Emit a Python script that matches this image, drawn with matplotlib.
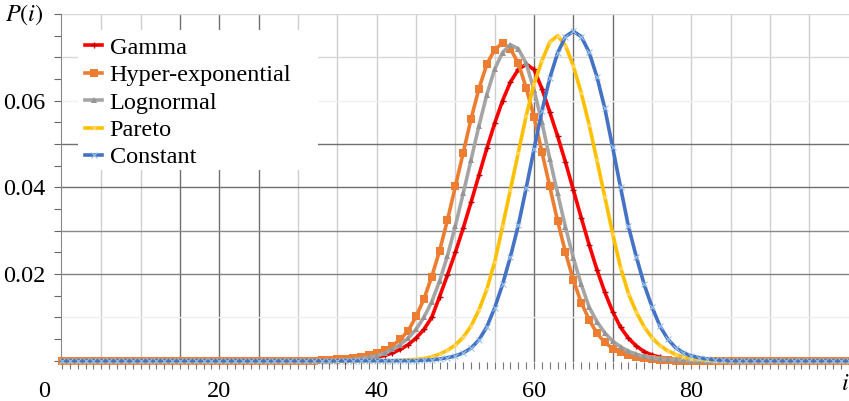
import matplotlib
matplotlib.use("Agg")
import matplotlib.pyplot as plt
from matplotlib.patches import Rectangle
from matplotlib.transforms import ScaledTranslation
from matplotlib.ticker import MultipleLocator

plt.rcParams['font.family'] = ['Liberation Serif', 'DejaVu Serif']
plt.rcParams['mathtext.fontset'] = 'stix'

N_POINTS = 101  # i = 0 .. 100

# non-zero stretch of each distribution: (first i, values)
GAMMA_START = 37
GAMMA = [0.0002, 0.0003, 0.0005, 0.0008, 0.0012, 0.0018, 0.0026, 0.0037, 0.0052,
         0.0072, 0.0100, 0.0148, 0.0198, 0.0250, 0.0306, 0.0366, 0.0428, 0.0490,
         0.0548, 0.0600, 0.0643, 0.0672, 0.0684, 0.0672, 0.0628, 0.0574, 0.0518,
         0.0458, 0.0394, 0.0330, 0.0268, 0.0210, 0.0158, 0.0113, 0.0077, 0.0052,
         0.0034, 0.0021, 0.0013, 0.0008, 0.0005, 0.0003, 0.0001]

HYPER_START = 33
HYPER = [0.0001, 0.0002, 0.0003, 0.0004, 0.0006, 0.0009, 0.0013, 0.0018, 0.0025,
         0.0035, 0.0049, 0.0069, 0.0102, 0.0142, 0.0194, 0.0254, 0.0325, 0.0402,
         0.0480, 0.0558, 0.0628, 0.0684, 0.0718, 0.0733, 0.0720, 0.0686, 0.0630,
         0.0563, 0.0482, 0.0402, 0.0322, 0.0250, 0.0186, 0.0134, 0.0095, 0.0063,
         0.0042, 0.0028, 0.0019, 0.0013, 0.0009, 0.0006, 0.0004, 0.0002, 0.0001]

LOGNORMAL_START = 36
LOGNORMAL = [0.0002, 0.0003, 0.0005, 0.0008, 0.0011, 0.0017, 0.0026, 0.0037, 0.0052,
             0.0072, 0.0100, 0.0136, 0.0184, 0.0242, 0.0311, 0.0386, 0.0464, 0.0542,
             0.0614, 0.0673, 0.0711, 0.0729, 0.0720, 0.0686, 0.0625, 0.0550, 0.0466,
             0.0386, 0.0308, 0.0237, 0.0176, 0.0124, 0.0090, 0.0064, 0.0045, 0.0032,
             0.0022, 0.0015, 0.0010, 0.0007, 0.0004, 0.0003, 0.0002, 0.0001]

PARETO_START = 43
PARETO = [0.0001, 0.0002, 0.0003, 0.0005, 0.0009, 0.0015, 0.0024, 0.0036, 0.0054,
          0.0080, 0.0117, 0.0165, 0.0228, 0.0310, 0.0395, 0.0480, 0.0565, 0.0638,
          0.0692, 0.0735, 0.0750, 0.0727, 0.0680, 0.0618, 0.0545, 0.0462, 0.0378,
          0.0293, 0.0215, 0.0155, 0.0112, 0.0078, 0.0053, 0.0035, 0.0023, 0.0014,
          0.0009, 0.0005, 0.0003, 0.0001]

CONSTANT_START = 46
CONSTANT = [0.0001, 0.0002, 0.0004, 0.0007, 0.0011, 0.0018, 0.0029, 0.0048, 0.0078,
            0.0122, 0.0176, 0.0240, 0.0312, 0.0398, 0.0488, 0.0576, 0.0652, 0.0710,
            0.0748, 0.0760, 0.0748, 0.0712, 0.0655, 0.0582, 0.0492, 0.0400, 0.0310,
            0.0240, 0.0176, 0.0124, 0.0080, 0.0050, 0.0030, 0.0018, 0.0011, 0.0007,
            0.0004, 0.0002, 0.0001]

LABELS = ["Gamma", "Hyper-exponential", "Lognormal", "Pareto", "Constant"]
X_TICKS = [0, 20, 40, 60, 80]
Y_TICKS = [0.02, 0.04, 0.06]


def full_series(start, vals):
    """Zero outside the listed stretch"""
    return [0.0] * start + vals + [0.0] * (N_POINTS - start - len(vals))


i_vals = list(range(N_POINTS))
series = [full_series(GAMMA_START, GAMMA),
          full_series(HYPER_START, HYPER),
          full_series(LOGNORMAL_START, LOGNORMAL),
          full_series(PARETO_START, PARETO),
          full_series(CONSTANT_START, CONSTANT)]

styles = [
    dict(color='#ff0000', marker='+', ms=4.5, mew=1.0, mec='#c00000'),
    dict(color='#ed7d31', marker='s', ms=5.5, mew=0, mec='#ed7d31'),
    dict(color='#a5a5a5', marker='^', ms=4.5, mew=0, mfc='#959595'),
    dict(color='#ffc000', marker='x', ms=3, mew=0.7, mec='#ffe08a'),
    dict(color='#4472c4', marker='x', ms=4, mew=0.8, mec='#9dc3e6'),
]

fig = plt.figure(figsize=(8.49, 4.01), dpi=100)
ax = fig.add_axes([61 / 849, 39 / 401, 788 / 849, 348 / 401])
ax.set_xlim(-0.13, 100.04)
ax.set_ylim(-0.0003, 0.08)

# grid drawn by hand: some lines darker than others
dark_x = [15, 20, 25, 60, 65, 70]
for gx in range(5, 100, 5):
    c = '#707070' if gx in dark_x else '#cfcfcf'
    ax.axvline(gx, color=c, lw=1.0, zorder=0.5)
h_grid = {0.01: '#eeeeee', 0.02: '#808080', 0.03: '#8a8a8a', 0.04: '#707070',
          0.05: '#707070', 0.06: '#f0f0f0', 0.07: '#d8d8d8', 0.08: '#d8d8d8'}
for gy, c in h_grid.items():
    ax.axhline(gy, color=c, lw=1.0, zorder=0.5)

# white panel behind the legend
ax.add_patch(Rectangle((0.0216, 0.552), 0.3044, 0.402, transform=ax.transAxes,
                       facecolor='white', edgecolor='none', zorder=1))

for vals, label, st in zip(series, LABELS, styles):
    ax.plot(i_vals, vals, lw=2.6, label=label, zorder=3, clip_on=False, **st)

for side in ['top', 'right', 'bottom']:
    ax.spines[side].set_visible(False)
ax.spines['left'].set_color('#888888')

ax.set_xticks(X_TICKS)
ax.set_xticklabels([str(t) for t in X_TICKS])
ax.xaxis.set_minor_locator(MultipleLocator(1))
ax.set_yticks(Y_TICKS)
ax.set_yticklabels(["0.02", "0.04", "0.06"])
ax.yaxis.set_minor_locator(MultipleLocator(0.005))
ax.tick_params(axis='x', which='both', direction='out', length=5, width=0.8,
               color='#777777', pad=9, labelsize=17.5)
ax.tick_params(axis='y', which='both', direction='out', length=5, width=0.8,
               color='#666666', pad=6, labelsize=17.5)

# the "0" label sits further left than the others
lbl0 = ax.get_xticklabels()[0]
lbl0.set_transform(lbl0.get_transform() + ScaledTranslation(-0.18, 0, fig.dpi_scale_trans))

leg = ax.legend(loc='upper left', bbox_to_anchor=(0.031, 0.934), frameon=False,
                fontsize=17.5, handlelength=0.7, handletextpad=0.3, labelspacing=0.22,
                borderpad=0, borderaxespad=0, markerscale=1.0)
leg.set_zorder(5)

fig.text(24 / 849, 1 - 15 / 401, r'$P(i)$', fontsize=17.5, ha='center', va='center')
fig.text(845 / 849, 1 - 385 / 401, r'$i$', fontsize=17.5, ha='center', va='center')

fig.savefig("out.png", dpi=100)
